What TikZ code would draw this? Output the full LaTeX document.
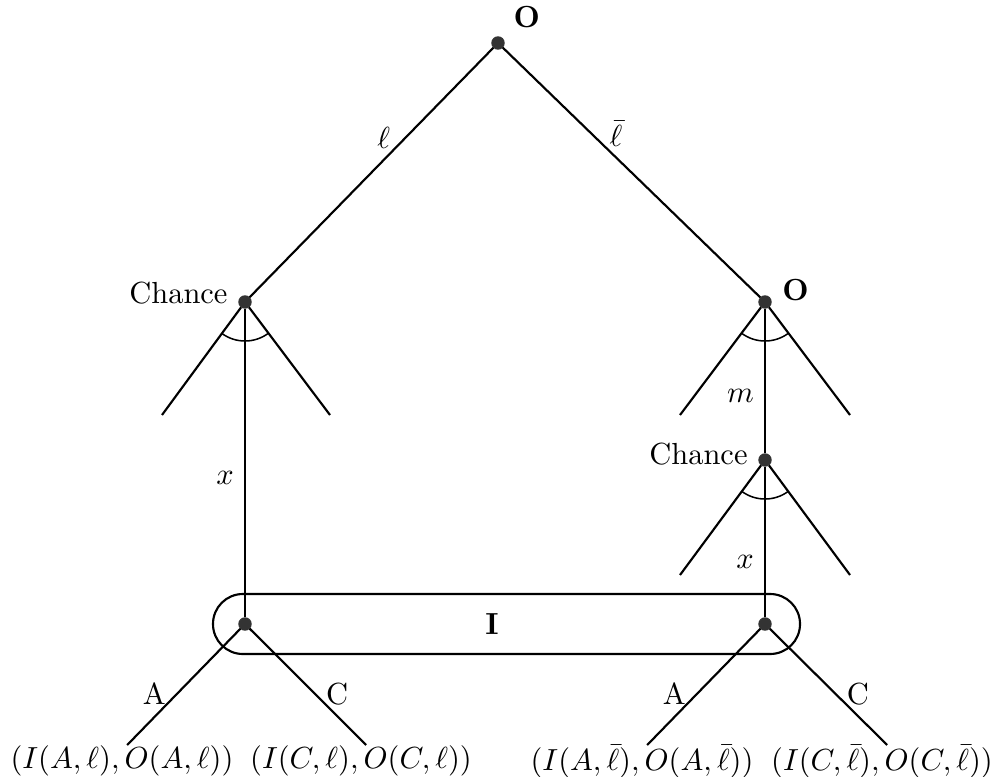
\documentclass[tikz,border=0pt]{standalone}
\usetikzlibrary{calc, angles}
\tikzset{
    dot/.style={circle, fill=black!80, draw=black!80, minimum size=4pt,
                inner sep=0pt},
    branch/.style={-, line width=0.7pt},
    chancearc/.style={draw, line width=0.5pt, angle radius=12.8pt},
    payoff/.style={anchor=north, inner sep=0pt},
    playerlbl/.style={font=\bfseries},
    infoset/.style={line width=0.7pt, rounded corners=9.8pt},
}
\begin{document}
\begin{tikzpicture}[x=0.328pt, y=0.328pt]
    \useasboundingbox (0,0) rectangle (998,776);
    % Decision and chance nodes
    \node[dot, label={[playerlbl]above right:O}] (root) at (498,733) {};
    \node[dot, label={[yshift=3pt]left:Chance}] (chanceL) at (245,474) {};
    \node[dot, label={[playerlbl, yshift=4pt]right:O}] (decR) at (765,474) {};
    \node[dot, label={[yshift=2pt]left:Chance}] (chanceR) at (765,316) {};
    \node[dot] (infoL) at (245,152) {};
    \node[dot] (infoR) at (765,152) {};
    % Branch ends that are cut off
    \coordinate (lcL) at (162,361);
    \coordinate (lcR) at (330,361);
    \coordinate (dcL) at (680,361);
    \coordinate (dcR) at (850,361);
    \coordinate (rcL) at (680,201);
    \coordinate (rcR) at (850,201);
    % Outcomes
    \node[payoff] (tAl) at (122,31) {$(I(A,\ell),O(A,\ell))$};
    \node[payoff] (tCl) at (361,31) {$(I(C,\ell),O(C,\ell))$};
    \node[payoff] (tAb) at (642,31) {$(I(A,\bar\ell),O(A,\bar\ell))$};
    \node[payoff] (tCb) at (882,31) {$(I(C,\bar\ell),O(C,\bar\ell))$};
    % First move
    \draw[branch] (root) -- node[pos=.45, above] {$\ell$} (chanceL);
    \draw[branch] (root) -- node[pos=.44, above] {$\bar\ell$} (decR);
    % Chance after l
    \draw[branch] (chanceL) -- (lcL);
    \draw[branch] (chanceL) -- (lcR);
    \draw[branch] (chanceL) -- node[pos=.55, left] {$x$} (infoL);
    \pic[chancearc] {angle=lcL--chanceL--lcR};
    % O moves after l-bar, then chance
    \draw[branch] (decR) -- (dcL);
    \draw[branch] (decR) -- (dcR);
    \draw[branch] (decR) -- node[pos=.6, left] {$m$} (chanceR);
    \pic[chancearc] {angle=dcL--decR--dcR};
    \draw[branch] (chanceR) -- (rcL);
    \draw[branch] (chanceR) -- (rcR);
    \draw[branch] (chanceR) -- node[pos=.63, left] {$x$} (infoR);
    \pic[chancearc] {angle=rcL--chanceR--rcR};
    % Information set of I
    \draw[infoset] ($(infoL)+(-32,-30)$) rectangle ($(infoR)+(35,30)$);
    \node[playerlbl] (infoI) at ($(infoL)!.475!(infoR)$) {I};
    % Last move
    \draw[branch] (infoL) -- node[pos=.56, left] {A} ([xshift=1.7pt]tAl.north);
    \draw[branch] (infoL) -- node[pos=.56, right] {C} ([xshift=1.7pt]tCl.north);
    \draw[branch] (infoR) -- node[pos=.56, left] {A} ([xshift=1.7pt]tAb.north);
    \draw[branch] (infoR) -- node[pos=.56, right] {C} ([xshift=1.7pt]tCb.north);
\end{tikzpicture}
\end{document}
